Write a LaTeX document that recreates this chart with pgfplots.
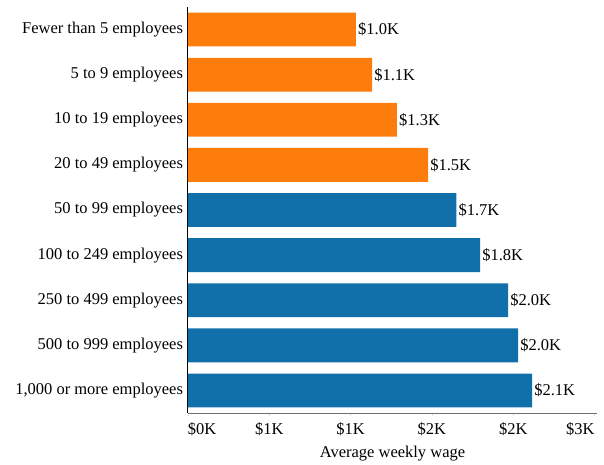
\documentclass[border=0pt]{standalone}
\usepackage{pgfplots}
\pgfplotsset{compat=1.18}
\usepackage{pgfplotstable}
\usetikzlibrary{calc}
\usepackage{fontspec}
\setmainfont{Liberation Serif}
\definecolor{cbOrange}{HTML}{FC7D0B}
\definecolor{cbBlue}{HTML}{1170AA}
\definecolor{axgray}{RGB}{110,110,110}

\pgfplotstableread{
y  v     lab
0  1033  {\$1.0K}
1  1132  {\$1.1K}
2  1285  {\$1.3K}
3  1476  {\$1.5K}
}\tblsmall
\pgfplotstableread{
y  v     lab
4  1650  {\$1.7K}
5  1796  {\$1.8K}
6  1968  {\$2.0K}
7  2030  {\$2.0K}
8  2116  {\$2.1K}
}\tbllarge

\begin{document}
\begin{tikzpicture}
\begin{axis}[
  scale only axis,
  width=409pt, height=406pt,
  xmin=0, xmax=2515,
  ymin=-0.5, ymax=8.5,
  y dir=reverse,
  axis x line=bottom, axis y line=left,
  axis line style={-},
  x axis line style={axgray, line width=1pt},
  y axis line style={black, line width=1pt},
  xtick={0,500,1000,1500,2000,2500},
  xticklabels={\makebox[0pt][l]{\$0K},\$1K,\$1K,\$2K,\$2K,\makebox[0pt][r]{\$3K}},
  ytick={0,...,8},
  yticklabels={Fewer than 5 employees,5 to 9 employees,10 to 19 employees,20 to 49 employees,50 to 99 employees,100 to 249 employees,250 to 499 employees,500 to 999 employees,{1,000 or more employees}},
  major tick length=3pt,
  tick align=outside,
  x tick style={black!12, line width=0.6pt},
  y tick style={draw=none},
  xticklabel style={font=\fontsize{16.5}{19}\selectfont, yshift=-3pt},
  yticklabel style={font=\fontsize{16.5}{19}\selectfont, xshift=1.5pt},
  xlabel={Average weekly wage},
  xlabel style={font=\fontsize{16.5}{19}\selectfont, yshift=-3pt},
  xbar, bar width=0.75,
  bar shift=0pt,
  clip=false,
  nodes near coords,
  point meta=explicit symbolic,
  every node near coord/.append style={font=\fontsize{16.5}{19}\selectfont, anchor=west, xshift=-1.3pt, black},
]
\addplot[draw=none, fill=cbOrange] table[x=v, y=y, meta=lab] {\tblsmall};
\addplot[draw=none, fill=cbBlue] table[x=v, y=y, meta=lab] {\tbllarge};
\end{axis}
\path[use as bounding box] ($(current axis.south west)+(-188pt,-51pt)$) rectangle ($(current axis.north east)+(7pt,7pt)$);
\end{tikzpicture}
\end{document}
